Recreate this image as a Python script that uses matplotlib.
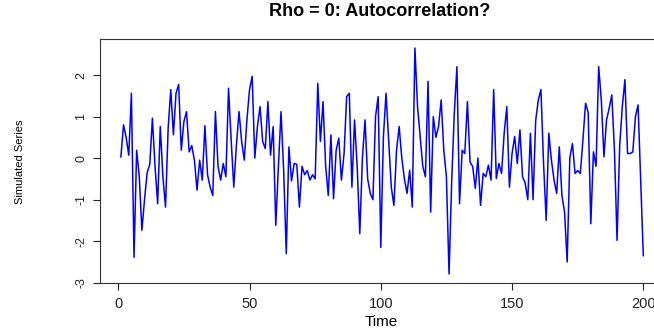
from matplotlib import pyplot as plt

# Hodnoty simulovanej rady (odcitane z obrazka), t = 1..200
cas = list(range(1, 201))
hodnoty = [
    0.03, 0.8, 0.5, 0.07, 1.56, -2.39, 0.19, -0.45, -1.74, -1.0,
    -0.35, -0.15, 0.96, -0.2, -1.1, 0.76, -0.45, -1.18, 0.72, 1.65,
    0.56, 1.56, 1.77, 0.19, 0.88, 1.12, 0.15, 0.3, -0.05, -0.77,
    -0.05, -0.53, 0.78, -0.4, -0.7, -0.9, 1.12, -0.2, -0.53, -0.13,
    -0.45, 1.68, 0.44, -0.7, 0.31, 1.12, 0.4, -0.05, 0.92, 1.65,
    1.97, 0.0, 0.76, 1.24, 0.4, 0.23, 1.36, 0.07, 0.76, -1.62,
    -0.2, 1.12, -0.3, -2.3, 0.27, -0.55, -0.13, -0.15, -1.18, -0.2,
    -0.4, -0.3, -0.53, -0.4, -0.5, 1.8, 0.4, 1.36, -0.2, -0.9,
    0.56, -0.98, 0.19, 0.48, -0.53, 0.1, 1.48, 1.56, -0.7, 0.92,
    -0.2, -1.82, 0.0, 0.92, -0.5, -0.85, -1.0, 1.0, 1.48, -2.15,
    0.52, 1.56, 0.44, -0.7, -1.14, 0.19, 0.76, 0.0, -0.5, -0.85,
    -0.29, -1.18, 2.65, 1.24, 0.52, -0.2, -0.45, 1.85, -1.3, 1.0,
    0.5, 0.76, 1.4, 0.19, -0.45, -2.79, -0.57, 1.08, 2.2, -1.1,
    0.19, 0.11, 1.36, -0.1, -0.2, -0.73, 0.0, -1.14, -0.37, -0.45,
    -0.17, -0.53, 1.65, -0.49, -0.13, -0.37, 0.6, 1.24, -0.7, 0.11,
    0.52, -0.13, 0.68, -0.45, -0.6, -1.0, 0.6, -1.0, 0.9, 1.4,
    1.65, -0.13, -1.5, 0.6, -0.05, -0.53, -0.85, 0.27, -0.9, -1.3,
    -2.5, 0.0, 0.35, -0.37, -0.3, -0.37, 0.44, 1.32, 1.1, -1.58,
    0.15, -0.2, 2.2, 1.4, 0.03, 0.92, 1.2, 1.52, 0.2, -1.98,
    0.3, 1.24, 1.89, 0.11, 0.11, 0.15, 1.0, 1.28, -0.5, -2.35,
]

x_ticky = [0, 50, 100, 150, 200]
y_ticky = [-3, -2, -1, 0, 1, 2]
y_popisy = ['-3', '-2', '-1', '0', '1', '2']


# Funkcia vykresli casovu radu v style R plot()
def vykresli_radu():
    plt.rcParams['font.family'] = ['Liberation Sans', 'DejaVu Sans']

    fig = plt.figure(figsize=(6.54, 3.31), dpi=100)
    ax = fig.add_axes([100 / 654, 1 - 283 / 331, 0.8627, 244 / 331])

    ax.plot(cas, hodnoty, color='#0000ff', linewidth=1.1)

    # rozsah osi ako v R (+4 %)
    rozpatie_x = cas[-1] - cas[0]
    ax.set_xlim(cas[0] - 0.04 * rozpatie_x, cas[-1] + 0.04 * rozpatie_x)
    rozpatie_y = max(hodnoty) - min(hodnoty)
    ax.set_ylim(min(hodnoty) - 0.04 * rozpatie_y, max(hodnoty) + 0.04 * rozpatie_y)

    ax.set_xticks(x_ticky)
    ax.set_yticks(y_ticky)
    ax.set_yticklabels(y_popisy, rotation=90, va='center')
    ax.tick_params(direction='out', length=5, width=0.8, colors='#222222', pad=4)
    ax.tick_params(axis='x', labelsize=10.5, pad=5)
    ax.tick_params(axis='y', labelsize=9)

    for spine in ax.spines.values():
        spine.set_linewidth(0.8)
        spine.set_color('#333333')

    fig.text(380 / 654, 1 - 12 / 331, 'Rho = 0: Autocorrelation?', ha='center',
             va='center', fontsize=13, fontweight='bold')
    fig.text(381 / 654, 1 - 322 / 331, 'Time', ha='center', va='center', fontsize=11)
    fig.text(20 / 654, 1 - 162 / 331, 'Simulated Series', ha='center', va='center',
             rotation=90, fontsize=8)

    fig.savefig('out.png', dpi=100)


if __name__ == '__main__':
    vykresli_radu()
